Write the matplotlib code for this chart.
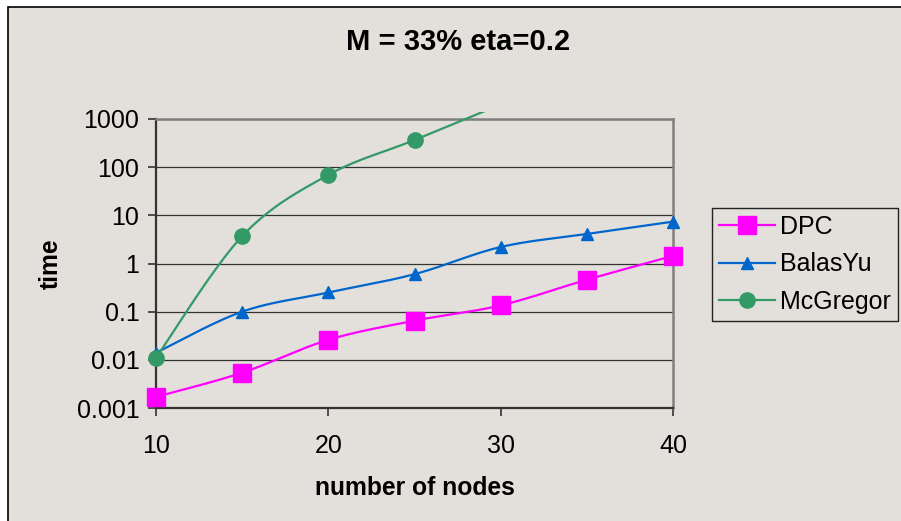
import numpy as np
import matplotlib
matplotlib.use("Agg")
import matplotlib.pyplot as plt
from matplotlib.patches import Rectangle
from matplotlib.transforms import Bbox, TransformedBbox

# данные
nodes = [10, 15, 20, 25, 30, 35, 40]
dpc = [0.0017, 0.0054, 0.026, 0.065, 0.135, 0.46, 1.44]
balas_yu = [0.014, 0.10, 0.25, 0.60, 2.2, 4.1, 7.4]
mcgregor_nodes = [10, 15, 20, 25, 30]
mcgregor = [0.011, 3.7, 69, 366, 2000]

y_ticks = [0.001, 0.01, 0.1, 1, 10, 100, 1000]
y_tick_labels = ['0.001', '0.01', '0.1', '1', '10', '100', '1000']
x_ticks = [10, 20, 30, 40]

BG = '#e3e0db'
W, H = 901, 521


def smooth(x, y, n=40):
    """Сглаживание как в Excel (кривые Безье через точки), в лог-пространстве."""
    pts = np.column_stack([np.asarray(x, float), np.log10(y)])
    segs = []
    t = np.linspace(0, 1, n)[:, None]
    for i in range(len(pts) - 1):
        p0 = pts[i - 1] if i > 0 else pts[i]
        p1, p2 = pts[i], pts[i + 1]
        p3 = pts[i + 2] if i + 2 < len(pts) else pts[i + 1]
        c1 = p1 + (p2 - p0) / 6
        c2 = p2 - (p3 - p1) / 6
        segs.append((1 - t) ** 3 * p1 + 3 * (1 - t) ** 2 * t * c1
                    + 3 * (1 - t) * t ** 2 * c2 + t ** 3 * p2)
    curve = np.vstack(segs)
    return curve[:, 0], 10 ** curve[:, 1]


plt.rcParams['font.family'] = ['Liberation Sans', 'DejaVu Sans']

fig = plt.figure(figsize=(W / 100, H / 100), dpi=100)
fig.patch.set_facecolor('white')
fig.patches.append(Rectangle((8 / W, -0.1), 1.2, 1.1 - 7 / H,
                             transform=fig.transFigure, facecolor=BG,
                             edgecolor='black', linewidth=1.2, zorder=-10))

ax = fig.add_axes([156 / W, 1 - 408 / H, 517 / W, 289 / H])
ax.set_facecolor(BG)
ax.set_yscale('log')
ax.set_ylim(0.001, 1000)
ax.set_xlim(10, 40)

series = [
    (nodes, dpc, 'DPC', '#ff00ff', 's', 13),
    (nodes, balas_yu, 'BalasYu', '#0066cc', '^', 8),
    (mcgregor_nodes, mcgregor, 'McGregor', '#339966', 'o', 11),
]
clip = TransformedBbox(Bbox([[-0.05, -0.05], [1.05, 1.024]]), ax.transAxes)
for xs, ys, name, col, mk, ms in series:
    sx, sy = smooth(xs, ys)
    ln, = ax.plot(sx, sy, color=col, lw=1.6, zorder=3)
    ln.set_clip_box(clip)
    inside = [(a, b) for a, b in zip(xs, ys) if b <= 1000]
    ax.plot([a for a, _ in inside], [b for _, b in inside], linestyle='none',
            marker=mk, markersize=ms, color=col, clip_on=False, zorder=4)
    ax.plot([], [], color=col, lw=1.6, marker=mk, markersize=ms, label=name)

ax.yaxis.set_major_locator(matplotlib.ticker.FixedLocator(y_ticks))
ax.yaxis.set_major_formatter(matplotlib.ticker.FixedFormatter(y_tick_labels))
ax.yaxis.set_minor_locator(matplotlib.ticker.NullLocator())
ax.set_xticks(x_ticks)
ax.tick_params(axis='both', direction='out', length=6, width=1.2,
               labelsize=18, color='#333333')
ax.tick_params(axis='y', pad=6)
ax.tick_params(axis='x', pad=13)

ax.grid(axis='y', color='#333333', linewidth=0.9)
ax.set_axisbelow(True)
for side in ['left', 'bottom']:
    ax.spines[side].set_color('#333333')
    ax.spines[side].set_linewidth(1.6)
for side in ['top', 'right']:
    ax.spines[side].set_color('#808080')
    ax.spines[side].set_linewidth(1.8)

ax.set_xlabel('number of nodes', fontsize=17.7, fontweight='bold', labelpad=13)
ax.set_ylabel('time', fontsize=17.7, fontweight='bold', labelpad=10)

fig.text(458 / W, 1 - 42 / H, 'M = 33% eta=0.2', fontsize=21,
         fontweight='bold', ha='center', va='center')

leg = ax.legend(loc='upper left', bbox_to_anchor=(712 / W, 1 - 208 / H),
                bbox_transform=fig.transFigure, borderaxespad=0,
                fontsize=18, frameon=True, fancybox=False,
                facecolor=BG, edgecolor='#222222', framealpha=1,
                handlelength=2.24, handletextpad=0.2, labelspacing=0.53,
                borderpad=0.28)
leg.get_frame().set_linewidth(1.0)

fig.savefig('out.png', dpi=100, facecolor=fig.get_facecolor())
